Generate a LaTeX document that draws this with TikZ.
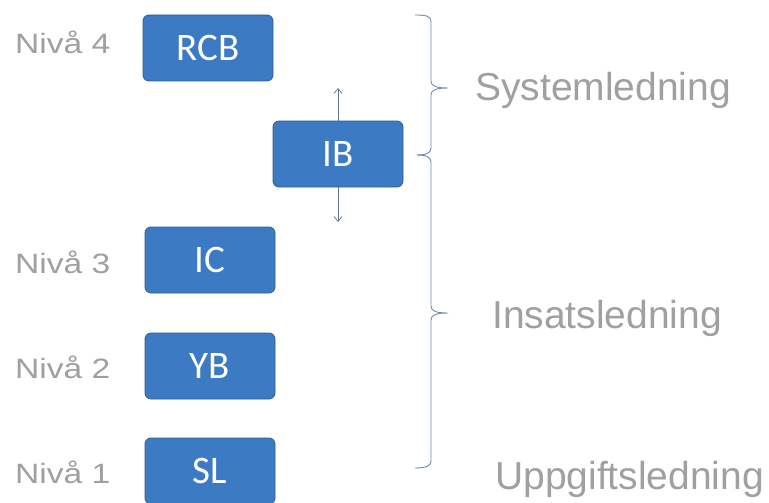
\documentclass[tikz,border=0pt]{standalone}
\usepackage{fontspec}
\setmainfont{Liberation Sans}
\newfontfamily\boxfont{Carlito}
\usetikzlibrary{arrows.meta}
\definecolor{boxblue}{HTML}{3D7AC4}
\definecolor{boxedge}{HTML}{2E5C95}
\definecolor{lblgray}{HTML}{A0A0A0}
\definecolor{bracecol}{HTML}{7088B8}
\definecolor{arrowcol}{HTML}{5F7090}
\tikzset{
  lvlbox/.style={draw=boxedge, line width=0.8pt, fill=boxblue, rounded corners=6pt,
    minimum width=130pt, minimum height=66pt, inner sep=0pt, text=white,
    font=\boxfont\fontsize{39}{42}\selectfont},
  lvllabel/.style={anchor=base west, inner sep=0pt, text=lblgray,
    font=\fontsize{28}{30}\selectfont},
  grplabel/.style={anchor=base west, inner sep=0pt, text=lblgray,
    font=\fontsize{39}{42}\selectfont},
  bracket/.style={draw=bracecol, line width=0.9pt},
  link/.style={draw=arrowcol, line width=0.7pt, {Straight Barb[length=5pt,width=8pt]}-}
}
\begin{document}
\begin{tikzpicture}[x=1pt,y=-1pt]
\useasboundingbox[fill=white] (0,0) rectangle (769,503);
% boxes
\node[lvlbox] (rcb) at (208,48) {RCB};
\node[lvlbox] (ib) at (338,154) {IB};
\node[lvlbox] (ic) at (210,260) {IC};
\node[lvlbox] (yb) at (210,366) {YB};
\node[lvlbox] (sl) at (210,471) {SL};
% level labels
\node[lvllabel] (n4) at (15,54) {\scalebox{1.2}[1]{Nivå 4}};
\node[lvllabel] (n3) at (15,273) {\scalebox{1.2}[1]{Nivå 3}};
\node[lvllabel] (n2) at (15,378) {\scalebox{1.2}[1]{Nivå 2}};
\node[lvllabel] (n1) at (15,483) {\scalebox{1.2}[1]{Nivå 1}};
% arrows
\coordinate (up) at (338,88);
\coordinate (down) at (338,222);
\draw[link] (up) -- (ib.north);
\draw[link] (down) -- (ib.south);
% brackets
\coordinate (t1) at (448,88);
\coordinate (t2) at (448,313);
\path[bracket] (415,15) .. controls (426,15) and (431,16) .. (431,22) -- (431,81)
  .. controls (431,86) and (436,88) .. (t1)
  .. controls (436,88) and (431,90) .. (431,95) -- (431,148)
  .. controls (431,153) and (426,155) .. (417,155);
\path[bracket] (417,155) .. controls (426,155) and (431,157) .. (431,162) -- (431,306)
  .. controls (431,311) and (436,313) .. (t2)
  .. controls (436,313) and (431,315) .. (431,320) -- (431,461)
  .. controls (431,466) and (426,468) .. (415,468);
% group labels
\node[grplabel] (sys) at (475,101) {Systemledning};
\node[grplabel] (ins) at (492,328) {Insatsledning};
\node[grplabel] (upp) at (495,489) {Uppgiftsledning};
\end{tikzpicture}
\end{document}
